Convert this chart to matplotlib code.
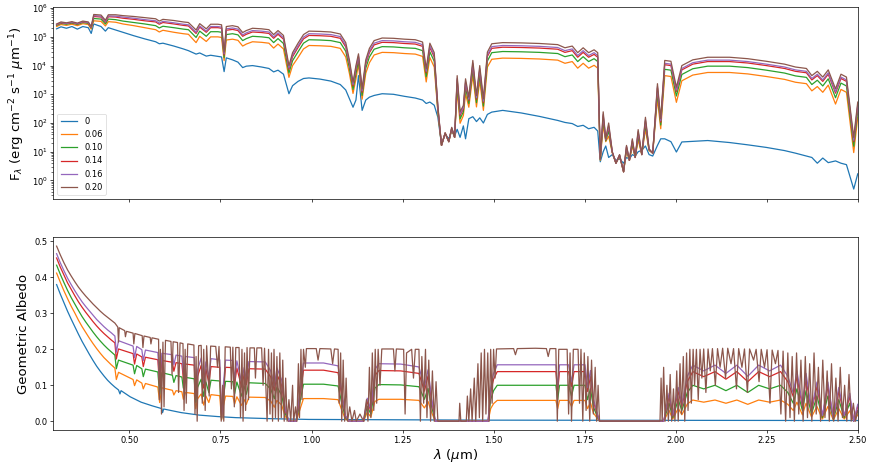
import numpy as np
import matplotlib.pyplot as plt
from matplotlib.ticker import LogLocator, NullFormatter

plt.rcParams["font.size"] = 6
plt.rcParams["axes.linewidth"] = 0.5
plt.rcParams["xtick.major.width"] = 0.5
plt.rcParams["ytick.major.width"] = 0.5
plt.rcParams["xtick.minor.width"] = 0.4
plt.rcParams["ytick.minor.width"] = 0.4
plt.rcParams["xtick.major.size"] = 2.1
plt.rcParams["ytick.major.size"] = 2.1
plt.rcParams["ytick.minor.size"] = 1.2
plt.rcParams["xtick.major.pad"] = 2.0
plt.rcParams["ytick.major.pad"] = 2.0

# legend labels (surface albedo of each model)
labels = ["0", "0.06", "0.10", "0.14", "0.16", "0.20"]
colors = ["C0", "C1", "C2", "C3", "C4", "C5"]

# ---- emergent flux, log10(F_lambda) on a common wavelength grid (um) ----
wl_flux = [0.300, 0.312, 0.327, 0.342, 0.357, 0.372, 0.387, 0.395, 0.402, 0.422,
           0.434, 0.442, 0.462, 0.482, 0.512, 0.542, 0.572, 0.582, 0.592, 0.622,
           0.648, 0.662, 0.683, 0.693, 0.711, 0.723, 0.743, 0.753, 0.760, 0.766,
           0.783, 0.798, 0.811, 0.821, 0.838, 0.863, 0.883, 0.896, 0.908, 0.923,
           0.938, 0.948, 0.963, 0.978, 0.993, 1.023, 1.053, 1.079, 1.094, 1.104,
           1.114, 1.122, 1.129, 1.139, 1.149, 1.159, 1.172, 1.194, 1.225, 1.255,
           1.285, 1.305, 1.315, 1.325, 1.337, 1.347, 1.357, 1.367, 1.377, 1.385,
           1.393, 1.400, 1.408, 1.417, 1.423, 1.432, 1.443, 1.453, 1.462, 1.472,
           1.483, 1.495, 1.525, 1.576, 1.626, 1.676, 1.696, 1.716, 1.731, 1.746,
           1.761, 1.776, 1.786, 1.793, 1.801, 1.808, 1.816, 1.826, 1.836, 1.846,
           1.857, 1.865, 1.873, 1.881, 1.889, 1.897, 1.907, 1.917, 1.927, 1.937,
           1.950, 1.959, 1.970, 1.987, 2.002, 2.017, 2.047, 2.088, 2.148, 2.198,
           2.249, 2.299, 2.329, 2.359, 2.374, 2.389, 2.404, 2.419, 2.439, 2.454,
           2.469, 2.489, 2.500]

logflux_0 = [5.28, 5.35, 5.30, 5.36, 5.27, 5.36, 5.32, 5.12, 5.45, 5.36,
             5.20, 5.32, 5.24, 5.16, 5.04, 4.93, 4.83, 4.76, 4.78, 4.68,
             4.58, 4.52, 4.40, 4.44, 4.33, 4.36, 4.32, 4.30, 3.79, 4.27,
             4.20, 4.12, 3.93, 3.98, 4.00, 3.95, 3.90, 3.78, 3.84, 3.70,
             3.02, 3.30, 3.45, 3.55, 3.57, 3.53, 3.46, 3.34, 3.15, 2.85,
             2.55, 2.80, 3.65, 2.44, 2.80, 2.90, 2.96, 3.02, 3.00, 2.93,
             2.87, 2.80, 2.68, 2.73, 2.62, 2.20, 1.25, 1.62, 1.45, 1.72,
             1.55, 1.78, 1.50, 1.90, 1.45, 2.15, 2.22, 2.05, 2.18, 2.00,
             2.30, 2.38, 2.44, 2.35, 2.23, 2.09, 2.02, 1.98, 1.88, 1.92,
             1.80, 1.85, 1.72, 0.65, 1.00, 1.20, 0.80, 0.90, 0.70, 0.75,
             0.60, 0.80, 0.75, 0.90, 0.85, 1.00, 1.05, 1.20, 0.90, 0.85,
             1.22, 1.45, 1.45, 1.35, 0.99, 1.34, 1.36, 1.39, 1.32, 1.24,
             1.15, 1.04, 0.95, 0.85, 0.80, 0.60, 0.78, 0.62, 0.68, 0.60,
             0.55, -0.30, 0.23]

logflux_006 = [5.36, 5.43, 5.40, 5.44, 5.39, 5.46, 5.43, 5.27, 5.56, 5.54,
               5.38, 5.53, 5.51, 5.45, 5.39, 5.32, 5.25, 5.17, 5.23, 5.16,
               5.11, 5.09, 4.80, 5.02, 4.84, 5.00, 5.00, 4.98, 4.17, 4.89,
               4.92, 4.88, 4.68, 4.75, 4.83, 4.81, 4.78, 4.61, 4.75, 4.58,
               3.59, 4.00, 4.28, 4.58, 4.70, 4.69, 4.67, 4.60, 4.30, 3.73,
               3.03, 3.53, 4.05, 2.83, 3.73, 4.10, 4.37, 4.46, 4.45, 4.42,
               4.40, 4.32, 3.43, 4.28, 3.95, 2.37, 1.22, 1.65, 1.35, 1.78,
               1.50, 3.13, 1.99, 2.26, 3.02, 2.55, 3.66, 2.56, 3.48, 2.44,
               3.95, 4.22, 4.26, 4.25, 4.23, 4.19, 4.08, 4.14, 3.91, 4.08,
               3.91, 4.01, 3.91, 0.70, 1.93, 1.35, 1.54, 0.96, 0.60, 0.84,
               0.30, 1.03, 0.70, 1.19, 0.80, 1.41, 0.90, 1.78, 1.04, 0.95,
               2.84, 1.80, 3.65, 3.62, 2.72, 3.47, 3.67, 3.76, 3.76, 3.71,
               3.62, 3.52, 3.42, 3.37, 3.12, 3.27, 3.07, 3.32, 2.66, 3.17,
               3.07, 0.97, 2.20]

logflux_010 = [5.40, 5.47, 5.44, 5.48, 5.43, 5.50, 5.47, 5.31, 5.64, 5.62,
               5.45, 5.62, 5.60, 5.55, 5.50, 5.45, 5.39, 5.31, 5.37, 5.32,
               5.27, 5.25, 4.98, 5.20, 5.02, 5.18, 5.18, 5.16, 4.28, 5.08,
               5.11, 5.07, 4.87, 4.94, 5.02, 5.00, 4.97, 4.80, 4.94, 4.77,
               3.74, 4.17, 4.48, 4.78, 4.90, 4.89, 4.87, 4.80, 4.50, 3.91,
               3.17, 3.71, 4.18, 2.96, 3.91, 4.30, 4.57, 4.66, 4.65, 4.62,
               4.60, 4.52, 3.61, 4.48, 4.15, 2.44, 1.22, 1.65, 1.35, 1.80,
               1.50, 3.34, 2.14, 2.39, 3.23, 2.68, 3.87, 2.71, 3.69, 2.59,
               4.16, 4.45, 4.49, 4.48, 4.46, 4.42, 4.31, 4.37, 4.14, 4.31,
               4.14, 4.24, 4.14, 0.72, 2.11, 1.38, 1.72, 0.97, 0.60, 0.86,
               0.30, 1.10, 0.70, 1.28, 0.80, 1.54, 0.90, 1.94, 1.06, 0.95,
               3.06, 1.93, 3.87, 3.84, 2.94, 3.69, 3.89, 3.98, 3.98, 3.93,
               3.84, 3.74, 3.64, 3.59, 3.34, 3.49, 3.29, 3.54, 2.88, 3.39,
               3.29, 1.19, 2.42]

logflux_014 = [5.42, 5.49, 5.46, 5.50, 5.45, 5.52, 5.49, 5.33, 5.71, 5.69,
               5.51, 5.70, 5.69, 5.65, 5.61, 5.56, 5.52, 5.44, 5.50, 5.45,
               5.40, 5.38, 5.12, 5.34, 5.16, 5.32, 5.32, 5.30, 4.37, 5.23,
               5.26, 5.22, 5.02, 5.09, 5.17, 5.15, 5.12, 4.95, 5.09, 4.92,
               3.87, 4.31, 4.63, 4.93, 5.05, 5.04, 5.02, 4.95, 4.65, 4.06,
               3.29, 3.86, 4.29, 3.07, 4.06, 4.45, 4.72, 4.81, 4.80, 4.77,
               4.75, 4.67, 3.75, 4.63, 4.30, 2.52, 1.22, 1.65, 1.35, 1.82,
               1.50, 3.50, 2.26, 2.49, 3.39, 2.78, 4.03, 2.83, 3.85, 2.71,
               4.32, 4.60, 4.64, 4.63, 4.61, 4.57, 4.46, 4.52, 4.29, 4.46,
               4.29, 4.39, 4.29, 0.74, 2.25, 1.41, 1.86, 0.98, 0.60, 0.88,
               0.30, 1.16, 0.70, 1.36, 0.80, 1.65, 0.90, 2.06, 1.08, 0.95,
               3.22, 2.03, 4.03, 4.00, 3.10, 3.85, 4.05, 4.14, 4.14, 4.09,
               4.00, 3.90, 3.80, 3.75, 3.50, 3.65, 3.45, 3.70, 3.04, 3.55,
               3.45, 1.35, 2.58]

logflux_016 = [5.43, 5.50, 5.47, 5.51, 5.46, 5.53, 5.50, 5.34, 5.74, 5.72,
               5.54, 5.73, 5.72, 5.69, 5.65, 5.60, 5.56, 5.48, 5.54, 5.49,
               5.44, 5.42, 5.16, 5.38, 5.20, 5.36, 5.36, 5.34, 4.41, 5.28,
               5.31, 5.27, 5.07, 5.14, 5.22, 5.20, 5.17, 5.00, 5.14, 4.97,
               3.92, 4.37, 4.69, 4.99, 5.11, 5.10, 5.08, 5.01, 4.71, 4.11,
               3.34, 3.92, 4.34, 3.12, 4.11, 4.51, 4.78, 4.87, 4.86, 4.83,
               4.81, 4.73, 3.80, 4.69, 4.36, 2.55, 1.22, 1.65, 1.35, 1.83,
               1.50, 3.55, 2.31, 2.54, 3.44, 2.83, 4.08, 2.88, 3.90, 2.76,
               4.37, 4.66, 4.70, 4.69, 4.67, 4.63, 4.52, 4.58, 4.35, 4.52,
               4.35, 4.45, 4.35, 0.75, 2.30, 1.43, 1.91, 0.99, 0.60, 0.89,
               0.30, 1.19, 0.70, 1.40, 0.80, 1.70, 0.90, 2.12, 1.09, 0.95,
               3.27, 2.08, 4.08, 4.05, 3.15, 3.90, 4.10, 4.19, 4.19, 4.14,
               4.05, 3.95, 3.85, 3.80, 3.55, 3.70, 3.50, 3.75, 3.09, 3.60,
               3.50, 1.40, 2.63]

logflux_020 = [5.45, 5.52, 5.49, 5.53, 5.48, 5.55, 5.52, 5.36, 5.78, 5.76,
               5.58, 5.77, 5.77, 5.74, 5.71, 5.67, 5.63, 5.55, 5.61, 5.57,
               5.52, 5.50, 5.24, 5.46, 5.28, 5.44, 5.44, 5.42, 4.47, 5.36,
               5.39, 5.35, 5.15, 5.22, 5.30, 5.28, 5.25, 5.08, 5.22, 5.05,
               4.00, 4.45, 4.78, 5.08, 5.20, 5.19, 5.17, 5.10, 4.80, 4.20,
               3.42, 4.00, 4.41, 3.19, 4.20, 4.60, 4.87, 4.96, 4.95, 4.92,
               4.90, 4.82, 3.89, 4.78, 4.45, 2.60, 1.22, 1.65, 1.35, 1.85,
               1.50, 3.65, 2.39, 2.61, 3.54, 2.90, 4.18, 2.96, 4.00, 2.84,
               4.47, 4.76, 4.80, 4.79, 4.77, 4.73, 4.62, 4.68, 4.45, 4.62,
               4.45, 4.55, 4.45, 0.76, 2.39, 1.45, 2.00, 1.00, 0.60, 0.90,
               0.30, 1.22, 0.70, 1.45, 0.80, 1.77, 0.90, 2.20, 1.10, 0.95,
               3.37, 2.15, 4.18, 4.15, 3.25, 4.00, 4.20, 4.29, 4.29, 4.24,
               4.15, 4.05, 3.95, 3.90, 3.65, 3.80, 3.60, 3.85, 3.19, 3.70,
               3.60, 1.50, 2.73]

# ---- geometric albedo ----
wl_alb_0 = [0.30, 0.31, 0.32, 0.33, 0.34, 0.35, 0.36, 0.37, 0.38, 0.39,
            0.40, 0.41, 0.42, 0.43, 0.44, 0.45, 0.46, 0.47, 0.474, 0.477,
            0.502, 0.532, 0.562, 0.589, 0.591, 0.594, 0.642, 0.692, 0.742, 0.792,
            0.893, 0.993, 1.495, 2.500]
alb_0 = [0.380, 0.354, 0.330, 0.306, 0.284, 0.263, 0.242, 0.222, 0.204, 0.186,
         0.169, 0.153, 0.139, 0.126, 0.114, 0.104, 0.095, 0.087, 0.076, 0.085,
         0.068, 0.053, 0.043, 0.035, 0.024, 0.034, 0.024, 0.017, 0.013, 0.010,
         0.007, 0.005, 0.003, 0.002]

wl_alb = [0.30, 0.31, 0.32, 0.33, 0.34, 0.35, 0.36, 0.37, 0.38, 0.39,
          0.40, 0.41, 0.42, 0.43, 0.44, 0.45, 0.46,
          0.464, 0.470, 0.510, 0.514, 0.520,
          0.534, 0.538, 0.544, 0.578, 0.583, 0.589, 0.618, 0.622, 0.628, 0.644,
          0.648, 0.654, 0.678, 0.682, 0.687, 0.697, 0.704, 0.710, 0.718, 0.724,
          0.748, 0.753, 0.758, 0.764, 0.784, 0.789, 0.795, 0.808, 0.815, 0.821,
          0.828, 0.873, 0.888, 0.898, 0.905, 0.918, 0.928, 0.938, 0.958, 0.968,
          0.978, 1.033, 1.073, 1.083, 1.093, 1.103, 1.143, 1.153, 1.163, 1.174,
          1.185, 1.245, 1.295, 1.310, 1.320, 1.330, 1.340, 1.485, 1.492, 1.500,
          1.510, 1.596, 1.671, 1.676, 1.681, 1.706, 1.714, 1.721, 1.751, 1.758,
          1.766, 1.774, 1.782, 1.791, 1.967, 1.982, 1.992, 2.007, 2.017, 2.032,
          2.047, 2.077, 2.108, 2.138, 2.168, 2.198, 2.228, 2.258, 2.288, 2.308,
          2.323, 2.333, 2.348, 2.358, 2.373, 2.388, 2.403, 2.418, 2.433, 2.448,
          2.463, 2.478, 2.489, 2.500]

alb_006 = [0.412, 0.387, 0.363, 0.341, 0.320, 0.301, 0.281, 0.263, 0.247, 0.231,
           0.216, 0.202, 0.189, 0.177, 0.167, 0.157, 0.148,
           0.116, 0.136, 0.116, 0.099, 0.115,
           0.106, 0.090, 0.105, 0.095, 0.052, 0.093, 0.086, 0.073, 0.085, 0.082,
           0.061, 0.080, 0.077, 0.035, 0.062, 0.076, 0.045, 0.070, 0.052, 0.074,
           0.071, 0.004, 0.043, 0.070, 0.069, 0.048, 0.068, 0.044, 0.060, 0.047,
           0.067, 0.066, 0.056, 0.039, 0.058, 0.045, 0.013, 0.000, 0.000, 0.032,
           0.063, 0.063, 0.060, 0.031, 0.006, 0.000, 0.000, 0.025, 0.012, 0.055,
           0.061, 0.061, 0.058, 0.037, 0.055, 0.024, 0.000, 0.000, 0.035, 0.049,
           0.058, 0.058, 0.058, 0.035, 0.058, 0.058, 0.041, 0.058, 0.058, 0.035,
           0.052, 0.023, 0.012, 0.000, 0.000, 0.030, 0.006, 0.036, 0.018, 0.048,
           0.059, 0.053, 0.059, 0.050, 0.059, 0.047, 0.059, 0.053, 0.059, 0.047,
           0.030, 0.053, 0.018, 0.050, 0.012, 0.041, 0.006, 0.041, 0.003, 0.035,
           0.006, 0.029, 0.000, 0.018]

alb_010 = [0.434, 0.409, 0.386, 0.364, 0.344, 0.326, 0.308, 0.291, 0.276, 0.262,
           0.248, 0.235, 0.223, 0.212, 0.202, 0.193, 0.184,
           0.146, 0.170, 0.156, 0.132, 0.155,
           0.146, 0.124, 0.145, 0.137, 0.075, 0.135, 0.128, 0.108, 0.127, 0.123,
           0.092, 0.122, 0.118, 0.053, 0.094, 0.117, 0.069, 0.109, 0.080, 0.114,
           0.112, 0.006, 0.067, 0.111, 0.110, 0.077, 0.109, 0.070, 0.097, 0.075,
           0.107, 0.105, 0.089, 0.063, 0.095, 0.073, 0.021, 0.000, 0.000, 0.052,
           0.103, 0.103, 0.098, 0.051, 0.010, 0.000, 0.000, 0.041, 0.020, 0.092,
           0.102, 0.101, 0.096, 0.061, 0.091, 0.040, 0.000, 0.000, 0.060, 0.085,
           0.100, 0.100, 0.100, 0.060, 0.100, 0.100, 0.070, 0.100, 0.100, 0.060,
           0.090, 0.040, 0.020, 0.000, 0.000, 0.050, 0.010, 0.060, 0.030, 0.080,
           0.100, 0.090, 0.100, 0.085, 0.100, 0.080, 0.100, 0.090, 0.100, 0.080,
           0.050, 0.090, 0.030, 0.085, 0.020, 0.070, 0.010, 0.070, 0.005, 0.060,
           0.010, 0.050, 0.000, 0.030]

alb_014 = [0.454, 0.429, 0.407, 0.385, 0.367, 0.349, 0.332, 0.317, 0.303, 0.290,
           0.277, 0.265, 0.254, 0.244, 0.235, 0.226, 0.218,
           0.173, 0.201, 0.188, 0.159, 0.187,
           0.179, 0.152, 0.178, 0.171, 0.094, 0.169, 0.164, 0.139, 0.163, 0.160,
           0.119, 0.159, 0.156, 0.070, 0.125, 0.155, 0.092, 0.145, 0.107, 0.152,
           0.150, 0.008, 0.090, 0.150, 0.149, 0.104, 0.148, 0.095, 0.131, 0.102,
           0.146, 0.145, 0.123, 0.086, 0.130, 0.100, 0.029, 0.000, 0.000, 0.071,
           0.142, 0.142, 0.135, 0.071, 0.014, 0.000, 0.000, 0.056, 0.028, 0.127,
           0.141, 0.140, 0.133, 0.084, 0.126, 0.056, 0.000, 0.000, 0.083, 0.117,
           0.138, 0.138, 0.138, 0.083, 0.138, 0.138, 0.097, 0.138, 0.138, 0.083,
           0.124, 0.055, 0.028, 0.000, 0.000, 0.069, 0.014, 0.083, 0.041, 0.110,
           0.138, 0.124, 0.138, 0.117, 0.138, 0.110, 0.138, 0.124, 0.138, 0.110,
           0.069, 0.124, 0.041, 0.117, 0.028, 0.097, 0.014, 0.097, 0.007, 0.083,
           0.014, 0.069, 0.000, 0.041]

alb_016 = [0.466, 0.441, 0.419, 0.398, 0.380, 0.363, 0.347, 0.332, 0.319, 0.307,
           0.295, 0.283, 0.273, 0.263, 0.254, 0.246, 0.237,
           0.192, 0.224, 0.209, 0.177, 0.208,
           0.199, 0.169, 0.198, 0.191, 0.105, 0.189, 0.185, 0.157, 0.184, 0.181,
           0.135, 0.180, 0.177, 0.080, 0.142, 0.176, 0.105, 0.165, 0.122, 0.174,
           0.171, 0.009, 0.103, 0.170, 0.169, 0.118, 0.168, 0.108, 0.149, 0.116,
           0.166, 0.165, 0.140, 0.098, 0.148, 0.115, 0.033, 0.000, 0.000, 0.081,
           0.162, 0.162, 0.154, 0.081, 0.016, 0.000, 0.000, 0.064, 0.032, 0.144,
           0.160, 0.159, 0.151, 0.095, 0.143, 0.063, 0.000, 0.000, 0.094, 0.133,
           0.157, 0.157, 0.157, 0.094, 0.157, 0.157, 0.110, 0.157, 0.157, 0.094,
           0.141, 0.063, 0.031, 0.000, 0.000, 0.078, 0.016, 0.094, 0.047, 0.125,
           0.156, 0.140, 0.156, 0.133, 0.156, 0.125, 0.156, 0.140, 0.156, 0.125,
           0.078, 0.140, 0.047, 0.133, 0.031, 0.109, 0.016, 0.109, 0.008, 0.094,
           0.016, 0.078, 0.000, 0.047]

wl_alb_020 = [
    0.30, 0.31, 0.32, 0.33, 0.34, 0.35, 0.36, 0.37, 0.38, 0.39, 0.40, 0.41,
    0.42, 0.43, 0.44, 0.45, 0.46, 0.468, 0.470, 0.472, 0.487, 0.489, 0.492,
    0.510, 0.512, 0.515, 0.535, 0.537, 0.540, 0.557, 0.559, 0.562, 0.580, 0.582,
    0.585, 0.588, 0.592, 0.595, 0.599, 0.614, 0.617, 0.620, 0.632, 0.635, 0.639,
    0.647, 0.650, 0.653, 0.656, 0.660, 0.677, 0.680, 0.683, 0.686, 0.690, 0.697,
    0.700, 0.704, 0.708, 0.712, 0.719, 0.723, 0.737, 0.742, 0.746, 0.752, 0.756,
    0.759, 0.763, 0.777, 0.780, 0.784, 0.788, 0.792, 0.801, 0.805, 0.809, 0.812,
    0.816, 0.819, 0.823, 0.827, 0.831, 0.843, 0.846, 0.850, 0.863, 0.867, 0.871,
    0.878, 0.882, 0.886, 0.890, 0.893, 0.897, 0.901, 0.905, 0.909, 0.913, 0.917,
    0.921, 0.925, 0.929, 0.933, 0.938, 0.943, 0.948, 0.951, 0.956, 0.960, 0.964,
    0.967, 0.971, 0.974, 0.978, 0.983, 0.986, 1.013, 1.018, 1.023, 1.053, 1.058,
    1.063, 1.073, 1.076, 1.080, 1.083, 1.087, 1.091, 1.095, 1.099, 1.105, 1.111,
    1.118, 1.123, 1.133, 1.143, 1.151, 1.155, 1.159, 1.163, 1.167, 1.171, 1.175,
    1.179, 1.183, 1.188, 1.193, 1.225, 1.229, 1.233, 1.253, 1.257, 1.261, 1.275,
    1.280, 1.285, 1.295, 1.299, 1.303, 1.308, 1.313, 1.317, 1.322, 1.327, 1.332,
    1.337, 1.342, 1.347, 1.405, 1.407, 1.410, 1.425, 1.428, 1.432, 1.437, 1.441,
    1.447, 1.451, 1.457, 1.461, 1.466, 1.470, 1.475, 1.479, 1.484, 1.488, 1.492,
    1.496, 1.500, 1.504, 1.508, 1.555, 1.560, 1.565, 1.615, 1.645, 1.650, 1.655,
    1.671, 1.675, 1.679, 1.702, 1.706, 1.710, 1.714, 1.719, 1.732, 1.736, 1.740,
    1.745, 1.749, 1.754, 1.759, 1.764, 1.769, 1.774, 1.779, 1.783, 1.787, 1.791,
    1.957, 1.960, 1.963, 1.967, 1.971, 1.976, 1.980, 1.985, 1.989, 1.994, 1.998,
    2.003, 2.007, 2.012, 2.016, 2.021, 2.025, 2.030, 2.034, 2.039, 2.043, 2.048,
    2.052, 2.057, 2.062, 2.067, 2.072, 2.077, 2.083, 2.089, 2.095, 2.101, 2.109,
    2.115, 2.122, 2.129, 2.137, 2.143, 2.152, 2.159, 2.167, 2.173, 2.182, 2.189,
    2.197, 2.203, 2.214, 2.221, 2.229, 2.235, 2.244, 2.251, 2.259, 2.265, 2.274,
    2.281, 2.289, 2.295, 2.302, 2.308, 2.314, 2.320, 2.326, 2.332, 2.338, 2.344,
    2.350, 2.356, 2.362, 2.368, 2.374, 2.380, 2.386, 2.392, 2.398, 2.404, 2.410,
    2.416, 2.422, 2.428, 2.434, 2.440, 2.446, 2.452, 2.458, 2.464, 2.470, 2.476,
    2.482, 2.488, 2.494, 2.500]

alb_020 = [
    0.487, 0.463, 0.441, 0.421, 0.404, 0.388, 0.373, 0.360, 0.348, 0.337, 0.326, 0.316,
    0.306, 0.297, 0.289, 0.281, 0.273, 0.262, 0.220, 0.260, 0.252, 0.235, 0.250,
    0.245, 0.215, 0.244, 0.238, 0.205, 0.237, 0.233, 0.215, 0.232, 0.228, 0.060,
    0.200, 0.020, 0.220, 0.040, 0.225, 0.222, 0.130, 0.221, 0.219, 0.080, 0.218,
    0.216, 0.030, 0.200, 0.050, 0.215, 0.212, 0.020, 0.180, 0.000, 0.210, 0.211,
    0.050, 0.200, 0.030, 0.210, 0.070, 0.209, 0.208, 0.150, 0.208, 0.000, 0.100,
    0.000, 0.207, 0.206, 0.090, 0.206, 0.040, 0.205, 0.205, 0.010, 0.200, 0.000,
    0.190, 0.030, 0.205, 0.060, 0.204, 0.204, 0.120, 0.204, 0.204, 0.100, 0.203,
    0.000, 0.200, 0.020, 0.190, 0.000, 0.200, 0.010, 0.180, 0.000, 0.190, 0.010,
    0.170, 0.000, 0.120, 0.000, 0.060, 0.000, 0.100, 0.000, 0.040, 0.000, 0.160,
    0.010, 0.200, 0.060, 0.200, 0.150, 0.202, 0.202, 0.170, 0.202, 0.201, 0.160,
    0.201, 0.200, 0.050, 0.190, 0.000, 0.170, 0.000, 0.120, 0.000, 0.040, 0.000,
    0.030, 0.000, 0.020, 0.000, 0.060, 0.000, 0.150, 0.010, 0.190, 0.030, 0.200,
    0.050, 0.200, 0.100, 0.201, 0.201, 0.140, 0.201, 0.200, 0.020, 0.190, 0.200,
    0.120, 0.200, 0.200, 0.000, 0.180, 0.050, 0.200, 0.010, 0.170, 0.000, 0.140,
    0.000, 0.110, 0.000, 0.000, 0.050, 0.000, 0.000, 0.070, 0.000, 0.090, 0.000,
    0.120, 0.000, 0.160, 0.010, 0.190, 0.000, 0.200, 0.020, 0.190, 0.000, 0.200,
    0.050, 0.200, 0.120, 0.201, 0.202, 0.185, 0.202, 0.203, 0.202, 0.180, 0.202,
    0.202, 0.000, 0.200, 0.200, 0.020, 0.190, 0.000, 0.200, 0.200, 0.050, 0.200,
    0.000, 0.190, 0.030, 0.180, 0.000, 0.170, 0.020, 0.150, 0.000, 0.100, 0.000,
    0.000, 0.120, 0.000, 0.150, 0.000, 0.100, 0.000, 0.130, 0.000, 0.090, 0.000,
    0.140, 0.000, 0.160, 0.020, 0.180, 0.000, 0.190, 0.030, 0.200, 0.050, 0.200,
    0.100, 0.200, 0.060, 0.200, 0.120, 0.201, 0.080, 0.201, 0.140, 0.202, 0.100,
    0.202, 0.150, 0.203, 0.120, 0.203, 0.160, 0.202, 0.090, 0.202, 0.150, 0.201,
    0.080, 0.201, 0.170, 0.200, 0.110, 0.200, 0.150, 0.199, 0.050, 0.198, 0.160,
    0.197, 0.020, 0.195, 0.000, 0.190, 0.010, 0.180, 0.000, 0.190, 0.020, 0.170,
    0.000, 0.180, 0.010, 0.160, 0.000, 0.190, 0.020, 0.150, 0.000, 0.170, 0.010,
    0.140, 0.000, 0.160, 0.000, 0.120, 0.000, 0.150, 0.010, 0.100, 0.000, 0.130,
    0.000, 0.050, 0.000, 0.030]

flux_series = [logflux_0, logflux_006, logflux_010, logflux_014, logflux_016, logflux_020]
alb_series = [(wl_alb_0, alb_0), (wl_alb, alb_006), (wl_alb, alb_010),
              (wl_alb, alb_014), (wl_alb, alb_016), (wl_alb_020, alb_020)]

fig = plt.figure(figsize=(8.7, 4.63), dpi=100)
ax1 = fig.add_axes([0.0613, 0.5695, 0.9246, 0.4147])
ax2 = fig.add_axes([0.0613, 0.0713, 0.9246, 0.416], sharex=ax1)

# top: emergent flux
for logf, lab, c in zip(flux_series, labels, colors):
    ax1.plot(wl_flux, 10 ** np.array(logf), color=c, lw=0.9, label=lab)
ax1.set_yscale("log")
ax1.set_ylim(0.22, 1.07e6)
ax1.yaxis.set_major_locator(LogLocator(base=10, numticks=12))
ax1.yaxis.set_minor_locator(LogLocator(base=10, subs=np.arange(2, 10), numticks=12))
ax1.yaxis.set_minor_formatter(NullFormatter())
ax1.set_ylabel(r"F$_\lambda$ (erg cm$^{-2}$ s$^{-1}$ $\mu$m$^{-1}$)", fontsize=9.5, labelpad=3)
leg = ax1.legend(loc="lower left", fontsize=6)
leg.get_frame().set_linewidth(0.5)
ax1.tick_params(labelbottom=False)

# bottom: geometric albedo
for (wl, a), c in zip(alb_series, colors):
    ax2.plot(wl, a, color=c, lw=0.9)
ax2.set_ylabel("Geometric Albedo", fontsize=9.5, labelpad=3)
ax2.set_xlabel(r"$\lambda$ ($\mu$m)", fontsize=9.5, labelpad=2)
ax2.set_xlim(0.291, 2.5)

fig.savefig("out.png", dpi=100)
